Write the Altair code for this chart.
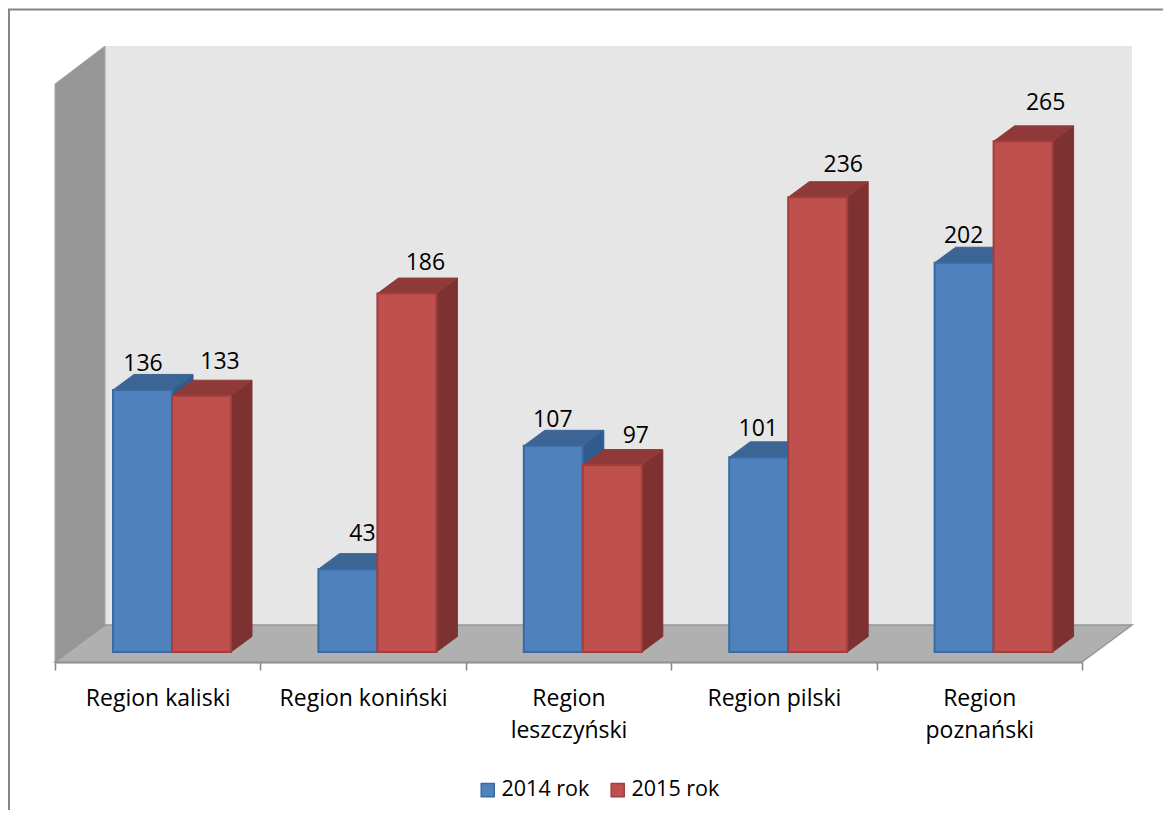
import altair as alt
import pandas as pd

categories = ["Region kaliski", "Region koniński", "Region leszczyński", "Region pilski", "Region poznański"]
values_2014 = [136, 43, 107, 101, 202]
values_2015 = [133, 186, 97, 236, 265]
series_names = ["2014 rok", "2015 rok"]

# label placement (px from the bar's left edge / above its top)
nudge_x_2014 = [30, 44, 29, 29, 29]
nudge_x_2015 = [48, 48, 53, 55, 52]
nudge_y_2014 = [28, 37, 28, 30, 29]
nudge_y_2015 = [36, 33, 31, 34, 40]

W, H = 1027, 616
PX_X = W / 5            # px per category
PX_Y = 1.927            # px per unit
Y_MIN, Y_MAX = -10 / PX_Y, 606 / PX_Y
BAR_OFF = 58 / PX_X
BAR_W = 59 / PX_X
BAR_DX = 21 / PX_X
BAR_DY = 15.5 / PX_Y
WALL_DX = 50 / PX_X
FLOOR_BACK = 27 / PX_Y
WALL_FRONT_TOP = 568 / PX_Y
FONT = "Open Sans"
TEXT_SIZE = 23
LEGEND_SIZE = 21.5

xq = lambda f: alt.X(f, type="quantitative", axis=None, scale=alt.Scale(domain=[0, 5], nice=False, zero=False))
yq = lambda f: alt.Y(f, type="quantitative", axis=None, scale=alt.Scale(domain=[Y_MIN, Y_MAX], nice=False, zero=False))

fronts, sides, tops, labels = [], [], [], []
for s, (vals, off, nx, ny) in enumerate([
    (values_2014, BAR_OFF, nudge_x_2014, nudge_y_2014),
    (values_2015, BAR_OFF + BAR_W, nudge_x_2015, nudge_y_2015),
]):
    for i, v in enumerate(vals):
        x0 = i + off
        fronts.append(dict(series=series_names[s], x=x0, x2=x0 + BAR_W, y=v, y2=0))
        sides += [
            dict(s=s, g=i, x=x0 + BAR_W, y=v, y2=0),
            dict(s=s, g=i, x=x0 + BAR_W + BAR_DX, y=v + BAR_DY, y2=BAR_DY),
        ]
        tops += [
            dict(s=s, g=i, x=x0, y=v, y2=v),
            dict(s=s, g=i, x=x0 + BAR_DX, y=v + BAR_DY, y2=v),
            dict(s=s, g=i, x=x0 + BAR_W, y=v + BAR_DY, y2=v),
            dict(s=s, g=i, x=x0 + BAR_W + BAR_DX, y=v + BAR_DY, y2=v + BAR_DY),
        ]
        labels.append(dict(x=x0 + nx[i] / PX_X, y=v + ny[i] / PX_Y, t=str(v)))

sides, tops = pd.DataFrame(sides), pd.DataFrame(tops)

# chart box
frame_top = alt.Chart(pd.DataFrame({"a": [0]})).mark_rule(color="#868686", strokeWidth=2).encode(
    x=alt.value(-60), x2=alt.value(1300), y=alt.value(-36.5))
frame_left = alt.Chart(pd.DataFrame({"a": [0]})).mark_rule(color="#868686", strokeWidth=2).encode(
    x=alt.value(-46), y=alt.value(-37), y2=alt.value(900))

back = alt.Chart(pd.DataFrame([dict(x=WALL_DX, x2=5 + WALL_DX, y=Y_MAX, y2=FLOOR_BACK)])).mark_rect(
    color="#E6E6E6").encode(x=xq("x"), x2="x2", y=yq("y"), y2="y2")
left = alt.Chart(pd.DataFrame([
    dict(x=0, y=WALL_FRONT_TOP, y2=Y_MIN),
    dict(x=WALL_DX, y=Y_MAX, y2=FLOOR_BACK),
])).mark_area(color="#969696", orient="vertical", stroke="#A6A6A6", strokeWidth=1).encode(
    x=xq("x"), y=yq("y"), y2="y2")
floor = alt.Chart(pd.DataFrame([
    dict(x=0, y=Y_MIN, y2=Y_MIN),
    dict(x=WALL_DX, y=FLOOR_BACK, y2=Y_MIN),
    dict(x=5, y=FLOOR_BACK, y2=Y_MIN),
    dict(x=5 + WALL_DX, y=FLOOR_BACK, y2=FLOOR_BACK),
])).mark_area(color="#B0B0B0", orient="vertical", stroke="#969696", strokeWidth=1.5).encode(
    x=xq("x"), y=yq("y"), y2="y2")


def faces(df, s, color):
    return alt.Chart(df[df.s == s]).mark_area(
        color=color, orient="vertical", stroke=color, strokeWidth=1
    ).encode(x=xq("x"), y=yq("y"), y2="y2", detail="g:N")


legend_opts = dict(title=None, orient="none", direction="horizontal",
                   legendX=422, legendY=733, symbolType="square", symbolSize=170,
                   symbolStrokeWidth=1.5, labelFont=FONT, labelFontSize=LEGEND_SIZE,
                   labelColor="#000000", columnPadding=17, labelOffset=3)

front_layer = alt.Chart(pd.DataFrame(fronts)).mark_rect(strokeWidth=2).encode(
    x=xq("x"), x2="x2", y=yq("y"), y2="y2",
    color=alt.Color("series:N", scale=alt.Scale(domain=series_names, range=["#4F81BD", "#C0504D"]),
                    legend=alt.Legend(**legend_opts)),
    stroke=alt.Stroke("series:N", scale=alt.Scale(domain=series_names, range=["#3A6AA2", "#A03F3C"]),
                      legend=alt.Legend(**legend_opts)),
)

text_layer = alt.Chart(pd.DataFrame(labels)).mark_text(
    font=FONT, fontSize=TEXT_SIZE, color="#000000", align="center", baseline="middle", dy=2
).encode(x=xq("x"), y=yq("y"), text="t:N")

axis_layer = alt.Chart(pd.DataFrame({"c": categories})).mark_point(opacity=0).encode(
    x=alt.X("c:N", sort=categories, title=None,
            scale=alt.Scale(paddingInner=0, paddingOuter=0),
            axis=alt.Axis(labelAngle=0, tickBand="extent", domainColor="#868686", domainWidth=2,
                          tickColor="#868686", tickWidth=1.5, tickSize=8, labelFont=FONT,
                          labelFontSize=TEXT_SIZE, labelColor="#000000", labelPadding=17,
                          labelLineHeight=32, labelLimit=0, grid=False,
                          labelExpr="datum.label == 'Region leszczyński' ? ['Region','leszczyński'] : "
                                    "datum.label == 'Region poznański' ? ['Region','poznański'] : datum.label")),
)

chart = alt.layer(
    frame_top, frame_left, back, left, floor,
    faces(sides, 0, "#2F5C8F"), faces(tops, 0, "#3C6494"),
    faces(sides, 1, "#7D3231"), faces(tops, 1, "#8F3A39"),
    front_layer, text_layer, axis_layer,
).resolve_scale(x="independent").properties(
    width=W, height=H,
    padding={"left": 47, "top": 38, "right": 81, "bottom": 148},
    autosize=alt.AutoSizeParams(type="none"),
    background="#FFFFFF",
).configure_view(stroke=None)

chart.save("out.html", embed_options={"renderer": "svg", "actions": False})
